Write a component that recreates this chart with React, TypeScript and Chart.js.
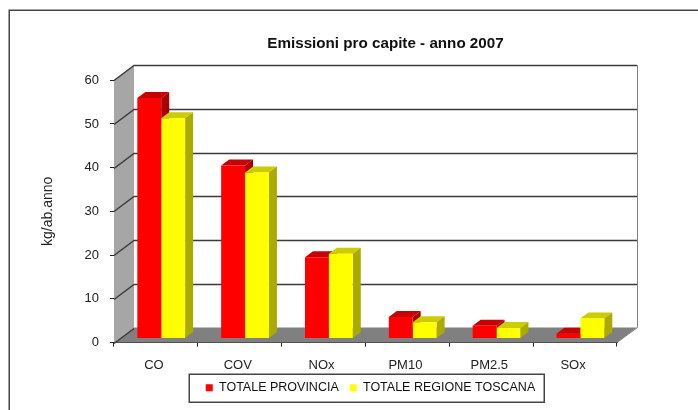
import React, { useEffect, useRef } from "react";
import { Chart, registerables } from "chart.js";

Chart.register(...registerables);

const categories = ["CO", "COV", "NOx", "PM10", "PM2.5", "SOx"];
const provincia = [55, 39.6, 18.6, 4.9, 2.9, 1.1];
const toscana = [50.4, 38, 19.4, 3.7, 2.4, 4.6];
const yTicksMax = 60;
const yTicksStep = 10;
const FONT = "'Liberation Sans', Arial, sans-serif";

const WALL_DX = 20, WALL_DY = -15;
const BAR_SHIFT_X = 5.3, BAR_SHIFT_Y = -4;
const BAR_DX = 8, BAR_DY = -6;
const LEGEND_SHIFT = 5;
const sideColors: [string, string][] = [
  ["#c80000", "#a80000"],
  ["#cccc00", "#aaaa00"],
];

function poly(ctx: CanvasRenderingContext2D, pts: number[][], fill: string) {
  ctx.beginPath();
  pts.forEach(([x, y], i) => (i ? ctx.lineTo(x, y) : ctx.moveTo(x, y)));
  ctx.closePath();
  ctx.fillStyle = fill;
  ctx.fill();
}

const threeD = {
  id: "threeD",
  afterLayout(chart: any) {
    // the title is centred on the back wall rather than on the front edge
    if (chart.titleBlock) {
      chart.titleBlock.left += WALL_DX;
      chart.titleBlock.right += WALL_DX;
    }
    chart.legend.left += LEGEND_SHIFT;
    chart.legend.right += LEGEND_SHIFT;
  },
  beforeDraw(chart: any) {
    const { ctx, width, height } = chart;
    ctx.save();
    ctx.fillStyle = "#fff";
    ctx.fillRect(0, 0, width, height);
    ctx.strokeStyle = "#444";
    ctx.lineWidth = 1.5;
    ctx.beginPath();
    ctx.moveTo(9.25, height);
    ctx.lineTo(9.25, 10.25);
    ctx.lineTo(width, 10.25);
    ctx.stroke();
    ctx.restore();
  },
  beforeDatasetsDraw(chart: any) {
    const { ctx, chartArea: a } = chart;
    const y = chart.scales.y;
    const y0 = y.getPixelForValue(0);
    const yTop = y.getPixelForValue(yTicksMax);
    const bx = a.left + WALL_DX, bxr = a.right + WALL_DX;
    ctx.save();
    poly(ctx, [[a.left, y0], [bx, y0 + WALL_DY], [bx, yTop + WALL_DY], [a.left, yTop]], "#a6a6a6");
    poly(ctx, [[a.left, y0], [a.right, y0], [bxr, y0 + WALL_DY], [bx, y0 + WALL_DY]], "#808080");
    ctx.lineWidth = 1;
    ctx.strokeStyle = "#808080";
    ctx.beginPath();
    ctx.moveTo(bxr + 0.5, yTop + WALL_DY);
    ctx.lineTo(bxr + 0.5, y0 + WALL_DY);
    ctx.lineTo(a.right, y0);
    ctx.stroke();
    ctx.strokeStyle = "#3a3a3a";
    ctx.lineWidth = 1.4;
    y.ticks.forEach((t: any) => {
      const p = Math.round(y.getPixelForValue(t.value)) + 0.5;
      ctx.beginPath();
      ctx.moveTo(a.left, p);
      ctx.lineTo(bx, p + WALL_DY);
      if (t.value > 0) ctx.lineTo(bxr, p + WALL_DY);
      ctx.stroke();
    });
    // tops and sides of the bars sit behind every front face, left series first
    ctx.translate(BAR_SHIFT_X, BAR_SHIFT_Y);
    const metas = chart.getSortedVisibleDatasetMetas();
    const count = metas[0].data.length;
    for (let i = 0; i < count; i++) {
      metas.forEach((meta: any, m: number) => {
        const el = meta.data[i];
        const [top, side] = sideColors[m];
        const l = el.x - el.width / 2, r = el.x + el.width / 2;
        poly(ctx, [[l, el.y], [r, el.y], [r + BAR_DX, el.y + BAR_DY], [l + BAR_DX, el.y + BAR_DY]], top);
        poly(ctx, [[r, el.y], [r + BAR_DX, el.y + BAR_DY], [r + BAR_DX, el.base + BAR_DY], [r, el.base]], side);
      });
    }
    ctx.restore();
  },
  beforeDatasetDraw(chart: any) {
    chart.ctx.save();
    chart.ctx.translate(BAR_SHIFT_X, BAR_SHIFT_Y);
  },
  afterDatasetDraw(chart: any) {
    chart.ctx.restore();
  },
  afterDraw(chart: any) {
    const { ctx, legend } = chart;
    const boxes = legend.legendHitBoxes;
    const l = boxes[0].left - 17;
    const r = boxes[boxes.length - 1].left + boxes[boxes.length - 1].width + 9;
    const cy = boxes[0].top + boxes[0].height / 2;
    ctx.save();
    ctx.strokeStyle = "#444";
    ctx.lineWidth = 1.5;
    ctx.strokeRect(Math.round(l) + 0.25, Math.round(cy - 14) + 0.25, Math.round(r - l), 28);
    ctx.restore();
  },
};

export default function App() {
  const ref = useRef<HTMLCanvasElement>(null);
  useEffect(() => {
    document.body.style.margin = "0";
    const chart = new Chart(ref.current!, {
      type: "bar",
      data: {
        labels: categories,
        datasets: [
          { label: "TOTALE PROVINCIA", data: provincia, backgroundColor: "#ff0000" },
          { label: "TOTALE REGIONE TOSCANA", data: toscana, backgroundColor: "#ffff00" },
        ],
      },
      options: {
        responsive: false,
        animation: false,
        events: [],
        layout: { padding: { left: 35, right: 81, top: 0, bottom: 6 } },
        datasets: { bar: { categoryPercentage: 0.57, barPercentage: 1 } },
        scales: {
          x: {
            grid: { drawOnChartArea: false, drawTicks: true, tickLength: 4, color: "#222" },
            border: { color: "#222" },
            ticks: { font: { family: FONT, size: 13 }, color: "#222", padding: 11, labelOffset: -2, maxRotation: 0 },
            afterFit: (s: any) => { s.height = 28; },
          },
          y: {
            min: 0,
            max: yTicksMax,
            grid: { drawOnChartArea: false, drawTicks: true, tickLength: 4, color: "#222" },
            border: { color: "#222" },
            ticks: { stepSize: yTicksStep, font: { family: FONT, size: 13 }, color: "#222", padding: 11 },
            title: { display: true, text: "kg/ab.anno", font: { family: FONT, size: 14 }, color: "#222", padding: { top: 5, bottom: 0 } },
            afterFit: (s: any) => { s.width = 79; },
          },
        },
        plugins: {
          title: {
            display: true,
            text: "Emissioni pro capite - anno 2007",
            color: "#111",
            fullSize: false,
            font: { family: FONT, size: 15.2, weight: "bold" },
            padding: { top: 35, bottom: 27 },
          },
          legend: {
            position: "bottom",
            fullSize: false,
            labels: {
              boxWidth: 7,
              boxHeight: 7,
              padding: 11,
              color: "#111",
              font: { family: FONT, size: 12.5 },
            },
          },
          tooltip: { enabled: false },
        },
      },
      plugins: [threeD],
    } as any);
    return () => chart.destroy();
  }, []);
  return <canvas ref={ref} width={698} height={410} style={{ display: "block" }} />;
}
